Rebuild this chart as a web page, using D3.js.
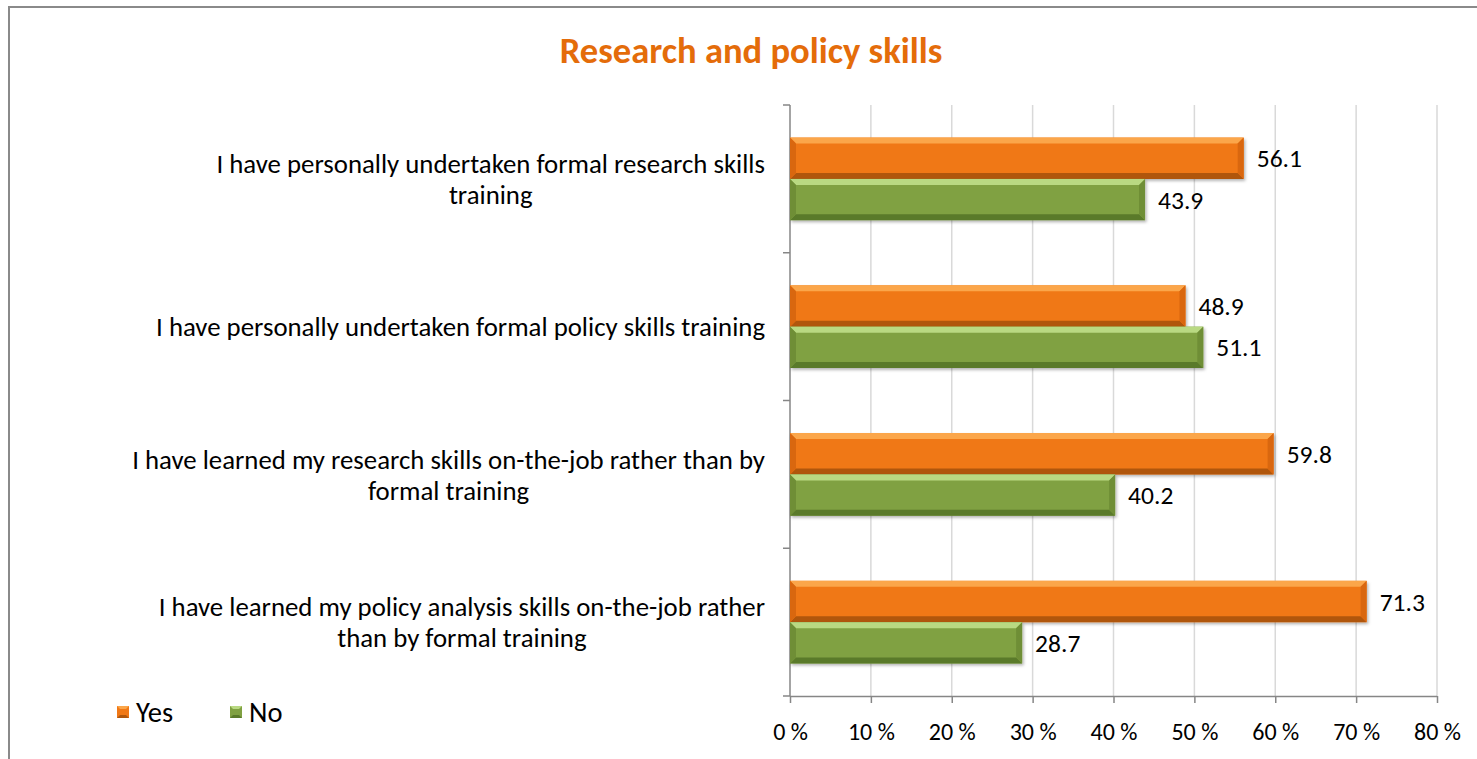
<!DOCTYPE html>
<html>
<head>
<meta charset="utf-8">
<script src="https://cdn.jsdelivr.net/npm/d3@7"></script>
<style>
  html, body { margin: 0; padding: 0; background: #fff; }
  svg { display: block; }
  text { font-family: Carlito, Lato, "Open Sans", sans-serif; }
</style>
</head>
<body>
<svg id="chart" width="1477" height="759"></svg>
<script>
// Survey statements (each split into its display lines)
const categories = [
  ["I have personally undertaken formal research skills", "training"],
  ["I have personally undertaken formal policy skills training"],
  ["I have learned my research skills on-the-job rather than by", "formal training"],
  ["I have learned my policy analysis skills on-the-job rather", "than by formal training"]
];
const seriesNames = ["Yes", "No"];
const yesValues = [56.1, 48.9, 59.8, 71.3];
const noValues = [43.9, 51.1, 40.2, 28.7];
const xTicks = [0, 10, 20, 30, 40, 50, 60, 70, 80];
const title = "Research and policy skills";

const colors = {
  Yes: { base: "#F07816", light: "#FBA64A", dark: "#B0560C", side: "#D9670F" },
  No:  { base: "#80A142", light: "#B9D982", dark: "#5A7A2A", side: "#6F8E36" }
};

const svg = d3.select("#chart");
const W = 1477, H = 759;

// outer frame
svg.append("path")
  .attr("d", `M9,${H} L9,7 L${W},7`)
  .attr("fill", "none").attr("stroke", "#8a8a8a").attr("stroke-width", 2);

// title
svg.append("text")
  .attr("x", 751).attr("y", 63)
  .attr("text-anchor", "middle")
  .attr("font-size", 36.6).attr("font-weight", "bold")
  .attr("fill", "#E46C0A")
  .text(title);

const plot = { left: 790, right: 1437, top: 105, bottom: 696 };

const x = d3.scaleLinear().domain([0, 80]).range([plot.left, plot.right]);
const y = d3.scaleBand().domain(d3.range(categories.length))
  .range([plot.top, plot.bottom]).paddingInner(0).paddingOuter(0);

// gridlines
svg.append("g").selectAll("line").data(xTicks.slice(1)).join("line")
  .attr("x1", d => x(d)).attr("x2", d => x(d))
  .attr("y1", plot.top).attr("y2", plot.bottom)
  .attr("stroke", "#d9d9d9").attr("stroke-width", 1.5);

// x axis
const xAxis = svg.append("g")
  .attr("transform", `translate(0,${plot.bottom})`)
  .call(d3.axisBottom(x).tickValues(xTicks).tickSize(7).tickPadding(20)
    .tickFormat(d => d + " %"));
xAxis.select(".domain").attr("stroke", "#868686").attr("stroke-width", 1.5)
  .attr("d", `M${plot.left},0.5H${plot.right}`);
xAxis.selectAll(".tick line").attr("stroke", "#868686").attr("stroke-width", 1.5);
xAxis.selectAll(".tick text").attr("font-size", 24).attr("fill", "#000")
  .attr("font-family", "Carlito, Lato, 'Open Sans', sans-serif");

// y axis (category boundaries)
const bounds = d3.range(categories.length + 1).map(i => plot.top + i * y.step());
svg.append("line")
  .attr("x1", plot.left).attr("x2", plot.left)
  .attr("y1", plot.top).attr("y2", plot.bottom)
  .attr("stroke", "#868686").attr("stroke-width", 1.5);
svg.append("g").selectAll("line").data(bounds).join("line")
  .attr("x1", plot.left - 7).attr("x2", plot.left)
  .attr("y1", d => d).attr("y2", d => d)
  .attr("stroke", "#868686").attr("stroke-width", 1.5);

// bar drop shadow
const defs = svg.append("defs");
const f = defs.append("filter").attr("id", "shadow")
  .attr("x", "-5%").attr("y", "-20%").attr("width", "110%").attr("height", "150%");
f.append("feDropShadow").attr("dx", 1.5).attr("dy", 2).attr("stdDeviation", 1.8)
  .attr("flood-color", "#000").attr("flood-opacity", 0.3);

const inner = d3.scaleBand().domain(seriesNames).range([0, y.bandwidth()])
  .paddingInner(0).paddingOuter(0.79);

const rows = categories.map((c, i) => ({ i, Yes: yesValues[i], No: noValues[i] }));

const bevel = 6;
const barG = svg.append("g");
rows.forEach(r => {
  seriesNames.forEach(s => {
    const x0 = x(0), x1 = x(r[s]);
    const y0 = y(r.i) + inner(s), h = inner.bandwidth(), y1 = y0 + h;
    const c = colors[s];
    const g = barG.append("g");
    g.append("rect").attr("x", x0).attr("y", y0).attr("width", x1 - x0).attr("height", h)
      .attr("fill", c.base).attr("filter", "url(#shadow)");
    const b = Math.min(bevel, (x1 - x0) / 2);
    // top bevel
    g.append("polygon").attr("points", [[x0, y0], [x1, y0], [x1 - b, y0 + b], [x0 + b, y0 + b]].join(" "))
      .attr("fill", c.light);
    // bottom bevel
    g.append("polygon").attr("points", [[x0, y1], [x1, y1], [x1 - b, y1 - b], [x0 + b, y1 - b]].join(" "))
      .attr("fill", c.dark);
    // left end
    g.append("polygon").attr("points", [[x0, y0], [x0 + b, y0 + b], [x0 + b, y1 - b], [x0, y1]].join(" "))
      .attr("fill", c.side);
    // right end
    g.append("polygon").attr("points", [[x1, y0], [x1 - b, y0 + b], [x1 - b, y1 - b], [x1, y1]].join(" "))
      .attr("fill", c.side);
    // value label
    svg.append("text")
      .attr("x", x1 + 13).attr("y", y0 + h / 2)
      .attr("dy", "0.36em").attr("font-size", 25.5).attr("fill", "#000")
      .text(r[s].toFixed(1));
  });
});

// category labels: block right-aligned to the axis, lines centred within the block
const labelRight = 765, lineH = 31;
categories.forEach((lines, i) => {
  const g = svg.append("g");
  const cy = y(i) + y.bandwidth() / 2;
  const t = g.selectAll("text").data(lines).join("text")
    .attr("font-size", 26.8).attr("fill", "#000")
    .attr("text-anchor", "middle")
    .attr("y", (d, k) => cy + (k - (lines.length - 1) / 2) * lineH)
    .attr("dy", "0.36em")
    .text(d => d);
  const maxW = d3.max(t.nodes(), n => n.getComputedTextLength());
  t.attr("x", labelRight - maxW / 2);
});

// legend
const legend = svg.append("g");
const legendX = [117, 230];
seriesNames.forEach((s, k) => {
  const c = colors[s];
  const lx = legendX[k], ly = 706;
  legend.append("rect").attr("x", lx).attr("y", ly).attr("width", 12).attr("height", 12)
    .attr("fill", c.base);
  legend.append("polygon").attr("points", [[lx, ly], [lx + 12, ly], [lx + 9, ly + 3], [lx + 3, ly + 3]].join(" "))
    .attr("fill", c.light);
  legend.append("polygon").attr("points", [[lx, ly + 12], [lx + 12, ly + 12], [lx + 9, ly + 9], [lx + 3, ly + 9]].join(" "))
    .attr("fill", c.dark);
  legend.append("text").attr("x", lx + 19).attr("y", ly + 6).attr("dy", "0.36em")
    .attr("font-size", 28.5).attr("fill", "#000").text(s);
});
</script>
</body>
</html>
